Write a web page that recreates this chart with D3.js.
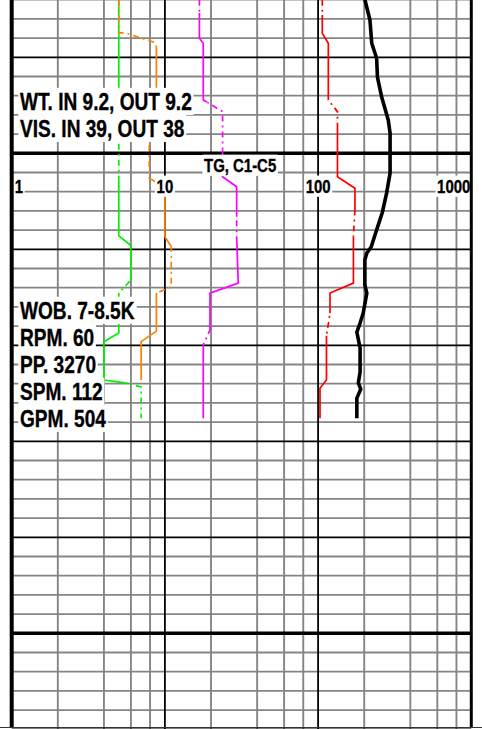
<!DOCTYPE html>
<html>
<head>
<meta charset="utf-8">
<script src="https://cdn.jsdelivr.net/npm/d3@7"></script>
<style>
  body { margin: 0; background: #fff; }
  svg { display: block; }
  text { font-family: "Liberation Sans", Arial, sans-serif; font-weight: bold; fill: #000; stroke: #000; stroke-width: 0.35px; }
</style>
</head>
<body>
<div id="container"></div>
<script>
// Size of the page
const width = 482,
  height = 729;

// Depth window (relative ft) and grid spacing
const depthTop = 0,
  depthBottom = 380;
const gridStep = 10, majorStep = 50, majorStart = 30, heavyStep = 250, heavyStart = 80;

// Log scale ticks
const xTickValues = [1, 10, 100, 1000];
const xTickLabels = ["1", "10", "100", "1000"];
const gridMultipliers = [2, 4, 6, 8];

// Curves as [depth, value]
const greenValues = [[0, 5], [123, 5], [128, 6], [146, 6], [152.8, 5], [173.6, 5], [178.1, 4], [198.1, 4], [199.6, 5.5], [201.7, 7], [218, 7]];
const greenDashed = [[73, 94], [146, 166.5], [199.6, 218]];

const orangeValues = [[0, 5], [17.3, 5], [17.3, 5.5], [22.3, 8.6], [24.6, 8.8], [62, 8.8], [67, 7.9], [93, 7.9], [97.4, 10], [123.4, 10], [128.6, 11], [149.6, 11], [152.8, 8.8], [172.6, 8.8], [178.1, 7], [198.1, 7]];
const orangeDashed = [[0, 24.6], [65, 93], [128.6, 152.8]];

const magentaValues = [[0, 16.8], [20.1, 16.8], [22.7, 17.8], [52.2, 17.8], [58.3, 23.8], [92.2, 23.8], [97.4, 29.4], [123, 29.4], [147.6, 30.1], [152.8, 19.7], [172, 19.7], [179.8, 17.8], [218, 17.8]];
const magentaDashed = [[0, 6.9], [53.5, 78], [113, 125.2], [172, 179.8]];

const redValues = [[0, 106.5], [17.5, 106.5], [22.7, 116.6], [52.2, 116.6], [58.3, 133.8], [92.2, 133.8], [98.2, 174], [109.5, 174], [123.4, 170], [147.6, 170], [152.8, 119.6], [163.2, 119.6], [175, 113.4], [198.1, 113.4], [202.4, 102.9], [218, 102.9]];
const redDashed = [[0, 8], [52.2, 66.8], [109.5, 123.4], [163.2, 175]];

const blackValues = [[0, 202], [10.6, 218], [22.7, 224], [30.5, 241], [40.3, 244], [50.7, 260], [62.7, 287], [69.6, 295], [90.3, 295], [100.7, 280], [111.1, 262], [119.9, 241], [128.8, 222], [131.9, 208], [135.6, 202], [148.6, 202], [152.8, 208], [163.2, 197], [168.4, 188], [173.1, 179], [181.4, 188], [193.9, 188], [199.6, 183], [202.8, 190], [207.5, 179], [218, 179]];

// Annotations
const mudLabels = ["WT. IN 9.2, OUT 9.2", "VIS. IN 39, OUT 38"];
const mudLabelDepth = 57.4;
const drillLabels = ["WOB. 7-8.5K", "RPM. 60", "PP. 3270", "SPM. 112", "GPM. 504"];
const drillLabelDepth = 166.2;
const gasLabel = "TG, C1-C5";
const gasLabelDepth = 89.7, gasLabelValue = 18;
const tickLabelDepth = 100.6;

// Scales
const x = d3.scaleLog().domain([1, 1000]).range([11.7, 471.3]);
const y = d3.scaleLinear().domain([depthTop, depthBottom]).range([-0.3, 729.3]);

const svg = d3.select("#container")
  .append("svg")
  .attr("width", width)
  .attr("height", height);

const defs = svg.append("defs");

// Grid lines
const depths = d3.range(depthTop, depthBottom + 1, gridStep);
const isHeavy = d => (d - heavyStart) % heavyStep === 0;
const isMajor = d => (d - majorStart) % majorStep === 0;

const minorX = [];
[1, 10, 100].forEach(dec => gridMultipliers.forEach(m => minorX.push(dec * m)));

const grid = svg.append("g");

// grey minor lines
grid.selectAll(".hminor")
  .data(depths.filter(d => !isMajor(d)))
  .join("line")
  .attr("x1", x(1)).attr("x2", x(1000))
  .attr("y1", d => y(d)).attr("y2", d => y(d))
  .attr("stroke", "#858585").attr("stroke-width", 1.8);

grid.selectAll(".vminor")
  .data(minorX)
  .join("line")
  .attr("x1", d => x(d)).attr("x2", d => x(d))
  .attr("y1", 0).attr("y2", height)
  .attr("stroke", "#858585").attr("stroke-width", 1.9);

// black decade lines
grid.selectAll(".vmajor")
  .data([10, 100])
  .join("line")
  .attr("x1", d => x(d)).attr("x2", d => x(d))
  .attr("y1", 0).attr("y2", height)
  .attr("stroke", "#000").attr("stroke-width", 1.8);

// black depth lines
grid.selectAll(".hmajor")
  .data(depths.filter(isMajor))
  .join("line")
  .attr("x1", x(1)).attr("x2", x(1000))
  .attr("y1", d => y(d)).attr("y2", d => y(d))
  .attr("stroke", "#000").attr("stroke-width", d => isHeavy(d) ? 3.5 : 1.8);

// Clip paths for the dash-dot and solid depth ranges
function makeClip(id, ranges) {
  const cp = defs.append("clipPath").attr("id", id);
  cp.selectAll("rect")
    .data(ranges)
    .join("rect")
    .attr("x", 0).attr("width", width)
    .attr("y", d => y(d[0]))
    .attr("height", d => y(d[1]) - y(d[0]));
}

function complement(ranges) {
  const out = [];
  let start = depthTop - 20;
  ranges.forEach(r => {
    out.push([start, r[0]]);
    start = r[1];
  });
  out.push([start, depthBottom + 20]);
  return out;
}

const line = d3.line()
  .x(d => x(d[1]))
  .y(d => y(d[0]));

const curves = svg.append("g").attr("fill", "none");

function drawCurve(name, values, dashed, color, w) {
  makeClip(name + "-solid", complement(dashed));
  makeClip(name + "-dash", dashed);
  curves.append("path")
    .datum(values)
    .attr("d", line)
    .attr("stroke", color)
    .attr("stroke-width", w)
    .attr("clip-path", `url(#${name}-solid)`);
  curves.append("path")
    .datum(values)
    .attr("d", line)
    .attr("stroke", color)
    .attr("stroke-width", w)
    .attr("stroke-dasharray", "6,4,2,4")
    .attr("clip-path", `url(#${name}-dash)`);
}

drawCurve("green", greenValues, greenDashed, "#00f000", 1.7);
drawCurve("orange", orangeValues, orangeDashed, "#ff8000", 1.7);
drawCurve("magenta", magentaValues, magentaDashed, "#ff00ff", 1.7);
drawCurve("red", redValues, redDashed, "#ff0000", 1.7);

curves.append("path")
  .datum(blackValues)
  .attr("d", line)
  .attr("stroke", "#000")
  .attr("stroke-width", 3.6)
  .attr("stroke-linejoin", "round");

// Labels with white boxes behind them
function addLabel(text, px, py, size, anchor) {
  const g = svg.append("g")
    .attr("transform", `translate(${px},${py}) scale(0.83,1)`);
  const rect = g.append("rect").attr("fill", "#fff");
  const t = g.append("text")
    .attr("font-size", size)
    .attr("text-anchor", anchor || "start")
    .text(text);
  const bb = t.node().getBBox();
  rect.attr("x", bb.x - 2)
    .attr("width", bb.width + 4)
    .attr("y", -size * 0.96)
    .attr("height", size * 1.18);
}

mudLabels.forEach((t, i) => addLabel(t, 20, y(mudLabelDepth) + i * 27, 23));
drillLabels.forEach((t, i) => addLabel(t, 20, y(drillLabelDepth) + i * 27, 23));
addLabel(gasLabel, x(gasLabelValue), y(gasLabelDepth), 18);

xTickValues.forEach((v, i) => {
  const anchor = i === 0 ? "start" : i === xTickValues.length - 1 ? "end" : "middle";
  const px = i === 0 ? x(v) + 3 : i === xTickValues.length - 1 ? x(v) - 1 : x(v);
  addLabel(xTickLabels[i], px, y(tickLabelDepth), 18, anchor);
});

// Frame
svg.append("line")
  .attr("x1", x(1)).attr("x2", x(1))
  .attr("y1", 0).attr("y2", 727)
  .attr("stroke", "#000").attr("stroke-width", 4);
svg.append("line")
  .attr("x1", x(1000)).attr("x2", x(1000))
  .attr("y1", 0).attr("y2", 727)
  .attr("stroke", "#000").attr("stroke-width", 3);
svg.append("line")
  .attr("x1", 0).attr("x2", width)
  .attr("y1", 727.5).attr("y2", 727.5)
  .attr("stroke", "#333").attr("stroke-width", 1);
</script>
</body>
</html>
